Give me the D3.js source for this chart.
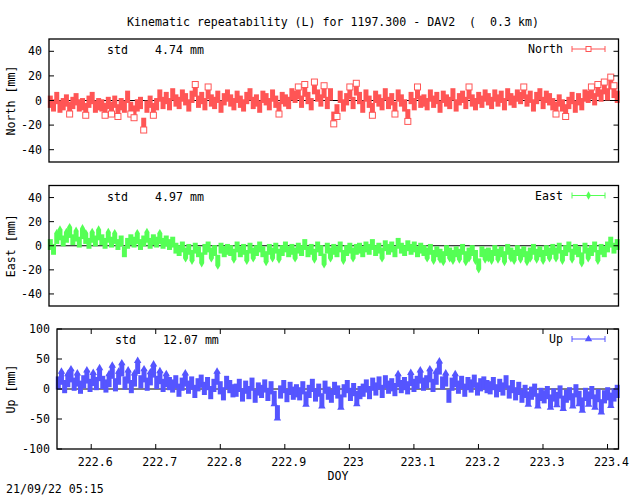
<!DOCTYPE html>
<html>
<head>
<meta charset="utf-8">
<script src="https://cdn.jsdelivr.net/npm/d3@7"></script>
<style>
  body { margin: 0; background: #fff; }
  text { font-family: "DejaVu Sans Mono", monospace; font-size: 11.6px; fill: #000; }
</style>
</head>
<body>
<script>
// DOY span of the run
var doyStart = 222.547, doyEnd = 223.417;
var doyTicks = [222.6, 222.7, 222.8, 222.9, 223, 223.1, 223.2, 223.3, 223.4];

var northVals = [-1,-4,2,-5,-3,0,-6,-2,1,-4,-3,-7,-1,2,-5,-3,
  -4,-7,-2,-6,-1,-8,-3,-5,3,-6,-9,-4,-2,-19,-5,-1,-7,-3,4,-2,
  2,-3,5,0,-2,4,1,-4,3,8,-1,2,-3,6,0,-2,3,-5,1,4,
  0,-3,3,-1,-4,2,5,-2,0,-5,3,1,-3,4,-1,-6,2,0,-2,5,
  3,6,-1,8,2,-3,10,4,0,7,-2,5,-14,-8,3,-4,1,6,-2,9,
  2,-5,4,-1,-7,3,0,-3,5,-2,1,-6,4,0,-4,-12,2,-3,6,-1,
  0,-3,4,-1,2,-5,3,0,-2,5,-4,1,3,-2,6,0,-3,2,-1,4,
  1,-2,4,0,3,-3,5,1,-1,4,2,6,0,3,-4,2,5,-2,3,1,
  -3,-6,0,-4,-8,-2,2,-5,1,-3,4,3,6,1,8,4,10,5,14,7,3];
var eastVals = [1,-3,6,9,4,7,11,5,8,3,10,6,2,7,4,9,
  5,2,7,3,6,1,4,-5,2,5,3,6,1,4,7,2,5,3,6,2,
  4,1,3,-2,-4,-1,-6,-3,-8,-2,-5,-10,-3,-1,-6,-4,-12,-2,-5,-3,
  -4,-7,-1,-5,-3,-8,-2,-6,-4,-1,-5,-9,-3,-6,-2,-7,-4,-1,-5,-3,
  -6,-2,-4,1,-5,-3,-7,-1,-4,-11,-2,-6,-3,-5,-1,-8,-4,-2,-6,-3,
  -2,-5,-1,-3,1,-4,-2,-6,0,-3,-1,-5,2,-2,-4,0,-3,-1,-5,-2,
  -4,-6,-3,-8,-5,-7,-9,-4,-6,-8,-5,-7,-3,-9,-6,-4,-8,-15,-5,-7,
  -6,-8,-4,-7,-5,-9,-3,-6,-8,-4,-7,-5,-9,-6,-3,-7,-5,-8,-4,-6,
  -3,-6,-2,-8,-4,-1,-7,-3,-5,-10,-2,-6,-4,-1,-8,-3,-5,-1,3,-2,1];
var upVals = [10,18,4,14,22,8,15,3,12,20,6,16,9,24,11,5,
  14,28,7,18,32,10,20,4,15,36,12,22,8,17,30,11,19,6,14,9,
  5,12,-2,8,15,3,10,-4,7,13,1,9,-6,6,18,2,-8,11,4,-3,
  -2,6,-10,3,-6,8,-12,0,-4,5,-9,2,-14,-38,-5,4,-11,1,-7,-3,
  -8,2,-15,-4,6,-10,-2,-18,3,-7,-12,1,-5,-20,-3,4,-9,-1,-14,-6,
  -2,5,-6,8,0,10,-4,12,3,7,-1,14,4,9,2,16,6,11,20,8,
  12,22,6,18,35,10,15,-12,8,14,3,11,-2,9,5,13,0,7,10,4,
  2,9,-3,6,0,12,-5,4,-8,1,-12,-4,-15,-7,-2,-18,-9,-13,-6,-20,
  -10,-16,-5,-22,-12,-8,-18,-3,-14,-25,-9,-15,-6,-20,-11,-28,-13,-8,-17,-10,-4];

var panels = [
  { name: "North", label: "North [mm]", std: "4.74 mm", vals: northVals, err: 5, color: "#ff5555", mark: "square",
    dom: [-50, 50], ticks: [-40, -20, 0, 20, 40], left: 49, top: 39, bottom: 162, xaxis: false },
  { name: "East", label: "East [mm]", std: "4.97 mm", vals: eastVals, err: 4.5, color: "#55ff55", mark: "diamond",
    dom: [-50, 50], ticks: [-40, -20, 0, 20, 40], left: 49, top: 185.5, bottom: 306, xaxis: false },
  { name: "Up", label: "Up [mm]", std: "12.07 mm", vals: upVals, err: 11, color: "#5555ff", mark: "triangle",
    dom: [-100, 100], ticks: [-100, -50, 0, 50, 100], left: 57, top: 329, bottom: 449, xaxis: true }
];
var right = 618.5;

var svg = d3.select("body").append("svg").attr("width", 640).attr("height", 496);

svg.append("text").attr("x", 333).attr("y", 26).attr("text-anchor", "middle").style("white-space", "pre")
  .text("Kinematic repeatability (L) for 1197.300 - DAV2  (  0.3 km)");

function marker(g, type, x, y, color) {
  if (type == "square") {
    g.append("rect").attr("x", x - 3).attr("y", y - 3).attr("width", 6).attr("height", 6)
      .attr("fill", "#fff").attr("stroke", color);
  } else if (type == "diamond") {
    g.append("path").attr("d", d3.symbol(d3.symbolDiamond, 20)()).attr("transform", "translate(" + x + "," + y + ")")
      .attr("fill", color);
  } else {
    g.append("path").attr("d", d3.symbol(d3.symbolTriangle, 24)()).attr("transform", "translate(" + x + "," + y + ")")
      .attr("fill", color);
  }
}

panels.forEach(function(p) {
  var x = d3.scaleLinear().domain([doyStart, doyEnd]).range([p.left, right]);
  var y = d3.scaleLinear().domain(p.dom).range([p.bottom, p.top]);
  var g = svg.append("g");
  var n = p.vals.length;
  var step = (doyEnd - doyStart - 0.004) / (n - 1);

  // zero line
  g.append("line").attr("x1", p.left).attr("x2", right).attr("y1", y(0)).attr("y2", y(0))
    .attr("stroke", "#000");

  var bars = g.append("g"), marks = g.append("g");
  p.vals.forEach(function(v, i) {
    var px = x(doyStart + 0.002 + i * step);
    bars.append("line").attr("x1", px).attr("x2", px).attr("y1", y(v - p.err)).attr("y2", y(v + p.err))
      .attr("stroke", p.color).attr("stroke-width", 5);
    // only the outer points show their marker clearly
    if (Math.abs(v) >= (p.mark == "triangle" ? 14 : 6)) {
      var ey = v > 0 ? v + p.err : v - p.err;
      marker(marks, p.mark, px, y(ey), p.color);
    }
  });

  // frame
  g.append("rect").attr("x", p.left).attr("y", p.top).attr("width", right - p.left).attr("height", p.bottom - p.top)
    .attr("fill", "none").attr("stroke", "#000").attr("stroke-width", 1.3);

  p.ticks.forEach(function(t) {
    g.append("line").attr("x1", p.left).attr("x2", p.left + 5).attr("y1", y(t)).attr("y2", y(t)).attr("stroke", "#000");
    g.append("line").attr("x1", right - 5).attr("x2", right).attr("y1", y(t)).attr("y2", y(t)).attr("stroke", "#000");
    g.append("text").attr("x", p.left - 7).attr("y", y(t) + 4).attr("text-anchor", "end").text(t);
  });

  if (p.xaxis) {
    doyTicks.forEach(function(t) {
      g.append("line").attr("x1", x(t)).attr("x2", x(t)).attr("y1", p.bottom).attr("y2", p.bottom - 5).attr("stroke", "#000");
      g.append("line").attr("x1", x(t)).attr("x2", x(t)).attr("y1", p.top).attr("y2", p.top + 5).attr("stroke", "#000");
      g.append("text").attr("x", x(t) + 4).attr("y", p.bottom + 17).attr("text-anchor", "middle").text(String(t));
    });
    g.append("text").attr("x", 338).attr("y", 480).attr("text-anchor", "middle").text("DOY");
  }

  var mid = (p.top + p.bottom) / 2;
  g.append("text").attr("transform", "translate(15," + mid + ") rotate(-90)").attr("text-anchor", "middle").text(p.label);

  g.append("text").attr("x", p.left + 58).attr("y", p.top + 15).text("std");
  g.append("text").attr("x", p.left + 106).attr("y", p.top + 15).text(p.std);

  // legend
  var ly = p.top + 10;
  g.append("text").attr("x", 563).attr("y", ly + 4).attr("text-anchor", "end").text(p.name);
  g.append("line").attr("x1", 572).attr("x2", 605).attr("y1", ly).attr("y2", ly).attr("stroke", p.color);
  [572, 605].forEach(function(cx) {
    g.append("line").attr("x1", cx).attr("x2", cx).attr("y1", ly - 3).attr("y2", ly + 3).attr("stroke", p.color);
  });
  if (p.mark == "square") {
    g.append("rect").attr("x", 586).attr("y", ly - 2.5).attr("width", 5).attr("height", 5).attr("fill", "#fff").attr("stroke", p.color);
  } else {
    marker(g, p.mark, 588.5, ly, p.color);
  }
});

svg.append("text").attr("x", 6).attr("y", 493).text("21/09/22 05:15");
</script>
</body>
</html>
